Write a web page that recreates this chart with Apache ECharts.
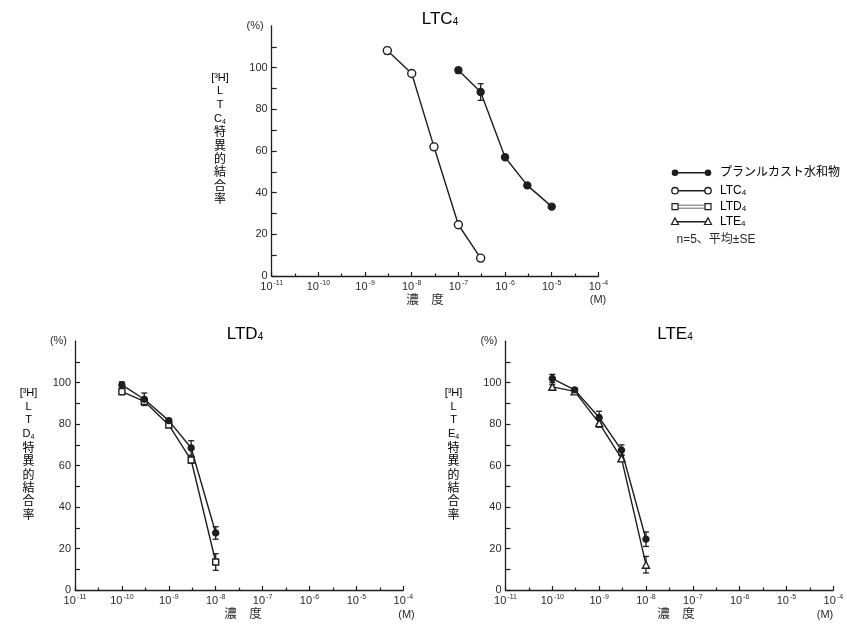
<!DOCTYPE html>
<html><head><meta charset="utf-8">
<script src="https://cdn.jsdelivr.net/npm/echarts@6/dist/echarts.min.js"></script>
<style>html,body{margin:0;padding:0;background:#fff}#c{width:847px;height:625px}</style>
</head><body><div id="c"></div>
<script>
// ---- data ----
const xTickExponents = [-11, -10, -9, -8, -7, -6, -5, -4];
const yTickLabels = [0, 20, 40, 60, 80, 100];
const yTickMarks = [0, 10, 20, 30, 40, 50, 60, 70, 80, 90, 100, 110];

// Panel 1: [3H]LTC4
const ltc4Conc = [3e-9, 1e-8, 3e-8, 1e-7, 3e-7];
const ltc4Values = [108.2, 97.2, 62.0, 24.6, 8.6];
const ltc4Err = [1.5, 1, 0, 0, 0];
const pranTopConc = [1e-7, 3e-7, 1e-6, 3e-6, 1e-5];
const pranTopValues = [98.8, 88.3, 57.0, 43.5, 33.3];
const pranTopErr = [1.2, 4, 0, 0, 0];

// Panel 2: [3H]LTD4
const ltdConc = [1e-10, 3e-10, 1e-9, 3e-9, 1e-8];
const pranLtdValues = [98.9, 92.0, 81.7, 68.5, 27.5];
const pranLtdErr = [1.5, 3, 1, 3.5, 3];
const ltd4Values = [95.7, 91.0, 79.6, 62.7, 13.5];
const ltd4Err = [1.5, 1, 1, 1.5, 4];

// Panel 3: [3H]LTE4
const lteConc = [1e-10, 3e-10, 1e-9, 3e-9, 1e-8];
const pranLteValues = [102.0, 96.5, 83.2, 67.5, 24.5];
const pranLteErr = [2, 1, 3, 2.5, 3.5];
const lte4Values = [98.0, 95.8, 80.5, 63.5, 12.2];
const lte4Err = [1, 1, 2, 1.5, 4];

// ---- styling ----
const FONT = '"Liberation Sans", Arial, "Noto Sans CJK JP", sans-serif';
const TXT = '#2a2a2a';
const INK = '#1e1e1e';

const grids = [
  { left: 271.7, top: 26, width: 326.7, height: 250 },
  { left: 75, top: 341.2, width: 328.3, height: 248.8 },
  { left: 505.5, top: 341.2, width: 327.8, height: 248.8 }
];

function xAxis(i) {
  return {
    type: 'value', gridIndex: i, min: xTickExponents[0], max: xTickExponents[xTickExponents.length - 1], interval: 1,
    axisLine: { lineStyle: { color: INK, width: 1.3 } },
    axisTick: { inside: true, length: 4, lineStyle: { color: INK, width: 1.2 } },
    minorTick: { show: true, splitNumber: 2, length: 2.5, lineStyle: { color: INK, width: 1.2 } },
    splitLine: { show: false }, minorSplitLine: { show: false },
    axisLabel: {
      margin: 4, color: TXT, fontFamily: FONT,
      formatter: v => '{a|10}{s|' + Math.round(v) + '}',
      rich: {
        a: { fontSize: 11, lineHeight: 14, color: TXT, fontFamily: FONT },
        s: { fontSize: 7, verticalAlign: 'top', color: TXT, fontFamily: FONT, padding: [0, 0, 0, 1] }
      }
    }
  };
}
function yAxis(i) {
  return {
    type: 'value', gridIndex: i, min: 0, max: 120, interval: 10,
    axisLine: { show: true, lineStyle: { color: INK, width: 1.3 } },
    axisTick: { show: true, inside: true, length: 5, customValues: yTickMarks, lineStyle: { color: INK, width: 1.2 } },
    splitLine: { show: false },
    axisLabel: { customValues: yTickLabels, margin: 4, fontSize: 11, color: TXT, fontFamily: FONT },
    name: '(%)', nameLocation: 'end', nameGap: 0,
    nameTextStyle: { align: 'right', verticalAlign: 'middle', padding: [0, 8, 0, 0], fontSize: 11, color: TXT, fontFamily: FONT }
  };
}

function pts(conc, vals) { return conc.map((c, k) => [Math.log10(c), vals[k]]); }
function lineSeries(idx, name, conc, vals, symbol, filled, size) {
  return {
    type: 'line', name, xAxisIndex: idx, yAxisIndex: idx, data: pts(conc, vals),
    symbol, symbolSize: size, showSymbol: true, animation: false, z: filled ? 4 : 3,
    lineStyle: { color: INK, width: 1.4 },
    itemStyle: { color: filled ? INK : '#fff', borderColor: INK, borderWidth: 1.4 }
  };
}
function errSeries(idx, conc, vals, errs) {
  const d = [];
  conc.forEach((c, k) => { if (errs[k] > 0) d.push([Math.log10(c), vals[k] - errs[k], vals[k] + errs[k]]); });
  return {
    type: 'custom', xAxisIndex: idx, yAxisIndex: idx, data: d, animation: false, z: 2,
    renderItem(params, api) {
      const x = api.value(0);
      const lo = api.coord([x, api.value(1)]);
      const hi = api.coord([x, api.value(2)]);
      const w = 3;
      const st = { stroke: INK, lineWidth: 1.3 };
      return {
        type: 'group', children: [
          { type: 'line', shape: { x1: lo[0], y1: lo[1], x2: hi[0], y2: hi[1] }, style: st },
          { type: 'line', shape: { x1: lo[0] - w, y1: lo[1], x2: lo[0] + w, y2: lo[1] }, style: st },
          { type: 'line', shape: { x1: hi[0] - w, y1: hi[1], x2: hi[0] + w, y2: hi[1] }, style: st }
        ]
      };
    }
  };
}

const richBase = {
  t: { fontSize: 17, fontFamily: FONT, color: TXT },
  s: { fontSize: 10, fontFamily: FONT, verticalAlign: 'bottom', color: TXT },
  n: { fontSize: 11, fontFamily: FONT, color: TXT, lineHeight: 13.4 },
  nc: { fontSize: 11, fontFamily: FONT, color: TXT, lineHeight: 15 },
  ns: { fontSize: 7, fontFamily: FONT, color: TXT, lineHeight: 15, verticalAlign: 'bottom', padding: [0, 0, 1, 0] },
  k: { fontSize: 12, fontFamily: FONT, color: TXT, lineHeight: 13.4 },
  l: { fontSize: 12, fontFamily: FONT, color: TXT },
  ls: { fontSize: 8, fontFamily: FONT, color: TXT, verticalAlign: 'bottom' }
};
function title(x, y, main, sub) {
  return { type: 'text', x, y, style: { text: '{t|' + main + '}{s|' + sub + '}', align: 'center', verticalAlign: 'middle', rich: richBase } };
}
function vLabel(x, y, letter) {
  const text = ['{n|[³H]}', '{n|L}', '{n|T}', '{nc|' + letter + '}{ns|4}', '{k|特}', '{k|異}', '{k|的}', '{k|結}', '{k|合}', '{k|率}'].join('\n');
  return { type: 'text', x, y, style: { text, align: 'center', verticalAlign: 'top', rich: richBase } };
}
function plain(x, y, text, align, size) {
  return { type: 'text', x, y, style: { text, align: align || 'center', verticalAlign: 'middle', font: (size || 12) + 'px ' + FONT, fill: TXT } };
}

// legend drawn as graphics
function legendRow(y, kind, label) {
  const x1 = 675, x2 = 708;
  const children = [];
  if (kind === 'rect') {
    children.push({ type: 'rect', shape: { x: x1, y: y - 1.5, width: x2 - x1, height: 3 }, style: { fill: '#fff', stroke: '#444', lineWidth: 0.8 } });
  } else {
    children.push({ type: 'line', shape: { x1, y1: y, x2, y2: y }, style: { stroke: INK, lineWidth: 1.4 } });
  }
  [x1, x2].forEach(cx => {
    if (kind === 'filled') children.push({ type: 'circle', shape: { cx, cy: y, r: 3.3 }, style: { fill: INK } });
    else if (kind === 'circle') children.push({ type: 'circle', shape: { cx, cy: y, r: 3.2 }, style: { fill: '#fff', stroke: INK, lineWidth: 1.3 } });
    else if (kind === 'rect') children.push({ type: 'rect', shape: { x: cx - 3, y: y - 3, width: 6, height: 6 }, style: { fill: '#fff', stroke: INK, lineWidth: 1.2 } });
    else children.push({ type: 'polygon', shape: { points: [[cx, y - 3.8], [cx - 3.5, y + 2.8], [cx + 3.5, y + 2.8]] }, style: { fill: '#fff', stroke: INK, lineWidth: 1.2 } });
  });
  children.push({ type: 'text', x: 720, y, style: { text: label, align: 'left', verticalAlign: 'middle', rich: richBase } });
  return { type: 'group', children };
}

const option = {
  backgroundColor: '#fff',
  animation: false,
  textStyle: { fontFamily: FONT },
  grid: grids,
  xAxis: [xAxis(0), xAxis(1), xAxis(2)],
  yAxis: [yAxis(0), yAxis(1), yAxis(2)],
  series: [
    errSeries(0, ltc4Conc, ltc4Values, ltc4Err),
    errSeries(0, pranTopConc, pranTopValues, pranTopErr),
    lineSeries(0, 'LTC4', ltc4Conc, ltc4Values, 'circle', false, 8),
    lineSeries(0, 'プランルカスト水和物', pranTopConc, pranTopValues, 'circle', true, 7),

    errSeries(1, ltdConc, ltd4Values, ltd4Err),
    errSeries(1, ltdConc, pranLtdValues, pranLtdErr),
    lineSeries(1, 'LTD4', ltdConc, ltd4Values, 'rect', false, 6),
    lineSeries(1, 'プランルカスト水和物', ltdConc, pranLtdValues, 'circle', true, 6),

    errSeries(2, lteConc, lte4Values, lte4Err),
    errSeries(2, lteConc, pranLteValues, pranLteErr),
    lineSeries(2, 'LTE4', lteConc, lte4Values, 'triangle', false, 7),
    lineSeries(2, 'プランルカスト水和物', lteConc, pranLteValues, 'circle', true, 6)
  ],
  graphic: [
    title(440, 19, 'LTC', '4'),
    title(245, 334, 'LTD', '4'),
    title(675, 334, 'LTE', '4'),
    vLabel(220, 71, 'C'),
    vLabel(28.5, 386.5, 'D'),
    vLabel(453.5, 386.5, 'E'),
    plain(425, 301, '濃　度', 'center', 12.5),
    plain(243, 615, '濃　度', 'center', 12.5),
    plain(676, 615, '濃　度', 'center', 12.5),
    plain(598, 300, '(M)', 'center', 11),
    plain(406.5, 615, '(M)', 'center', 11),
    plain(825, 615, '(M)', 'center', 11),
    legendRow(172.7, 'filled', '{l|プランルカスト水和物}'),
    legendRow(190.7, 'circle', '{l|LTC}{ls|4}'),
    legendRow(206.7, 'rect', '{l|LTD}{ls|4}'),
    legendRow(221.7, 'triangle', '{l|LTE}{ls|4}'),
    plain(676.5, 239.3, 'n=5、平均±SE', 'left', 12)
  ]
};

const chart = echarts.init(document.getElementById('c'), null, { renderer: 'canvas' });
chart.setOption(option);
</script>
</body></html>
